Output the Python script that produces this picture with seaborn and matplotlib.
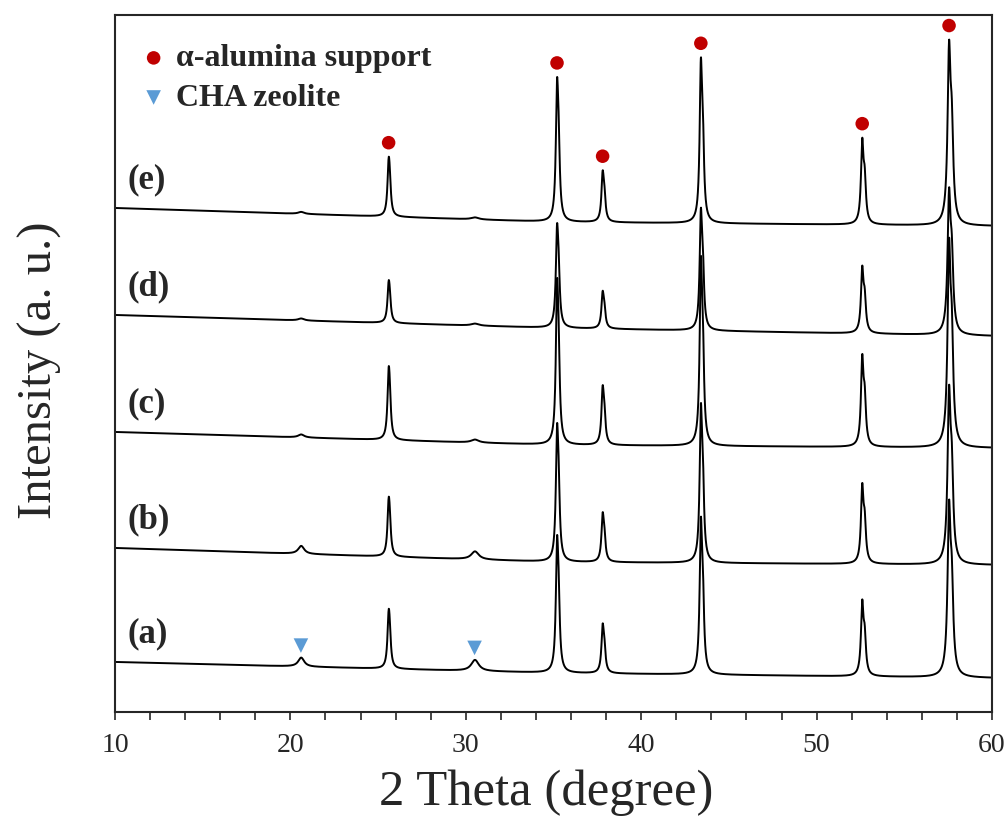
import numpy as np
import pandas as pd
import matplotlib
matplotlib.use("Agg")
import matplotlib.pyplot as plt
import seaborn as sns

# XRD patterns (a)-(e), intensities in arbitrary units (stacked)
samples = ['(a)', '(b)', '(c)', '(d)', '(e)']

# background level of each pattern at 10, 35 and 60 degrees
bg_knots = [10, 35, 60]
bg_a = [50, 39, 34]
bg_b = [164, 150, 147]
bg_c = [280, 267, 264]
bg_d = [397, 384, 376]
bg_e = [504, 490, 486]

# peak positions (2 theta) and widths (FWHM, degree)
peak_pos = [20.6, 25.6, 30.5, 35.2, 37.8, 43.4, 52.6, 57.55]
peak_fwhm = [0.4, 0.16, 0.5, 0.16, 0.16, 0.16, 0.17, 0.2]

# peak heights above background for each pattern
h_a = [9, 60, 11, 138, 50, 158, 77, 178]
h_b = [8, 60, 8, 139, 50, 160, 81, 180]
h_c = [3, 74, 3, 167, 60, 190, 93, 210]
h_d = [2, 43, 2, 105, 38, 123, 68, 148]
h_e = [2, 60, 2, 145, 52, 166, 87, 186]

# phase markers
alumina_pos = [25.6, 35.2, 37.8, 43.4, 52.6, 57.55]
cha_pos = [20.6, 30.5]

backgrounds = [bg_a, bg_b, bg_c, bg_d, bg_e]
heights = [h_a, h_b, h_c, h_d, h_e]

theta = np.linspace(10, 60, 5001)


def profile(x, x0, w):
    # Lorentzian with a Cu K-alpha2 companion, normalised to unit height
    shift = np.degrees(2 * np.tan(np.radians(x0 / 2)) * 0.00248)
    p = 1 / (1 + (2 * (x - x0) / w) ** 2) + 0.5 / (1 + (2 * (x - x0 - shift) / w) ** 2)
    return p / p.max()


frames = []
for name, bg, hs in zip(samples, backgrounds, heights):
    y = np.interp(theta, bg_knots, bg)
    for x0, w, h in zip(peak_pos, peak_fwhm, hs):
        y = y + h * profile(theta, x0, w)
    frames.append(pd.DataFrame({'theta': theta, 'intensity': y, 'sample': name}))
df = pd.concat(frames, ignore_index=True)

sns.set_style('ticks')
plt.rcParams['font.family'] = ['Liberation Serif', 'DejaVu Serif']

fig = plt.figure(figsize=(10.06, 8.19), dpi=100)
ax = fig.add_axes([0.1143, 0.1307, 0.8718, 0.851])

sns.lineplot(data=df, x='theta', y='intensity', hue='sample',
             palette=['black'] * 5, linewidth=1.4, legend=False, ax=ax,
             estimator=None, sort=False)

# markers placed just above the peak tops
top_e = df[df['sample'] == '(e)']
al_y = [top_e.loc[(top_e.theta - p).abs() < 0.3, 'intensity'].max() + 14 for p in alumina_pos]
top_a = df[df['sample'] == '(a)']
cha_y = [top_a.loc[(top_a.theta - p).abs() < 0.3, 'intensity'].max() + 12 for p in cha_pos]

sns.scatterplot(x=alumina_pos, y=al_y, marker='o', s=95, color='#C00000',
                edgecolor='none', ax=ax, label='α-alumina support', zorder=5)
sns.scatterplot(x=cha_pos, y=cha_y, marker='v', s=110, color='#5B9BD5',
                edgecolor='none', ax=ax, label='CHA zeolite', zorder=5)

for name, bg in zip(samples, backgrounds):
    ax.text(10.7, bg[0] + 28, name, fontsize=25, fontweight='bold',
            va='center', ha='left')

leg = ax.legend(loc='upper left', bbox_to_anchor=(0.004, 0.986), frameon=False,
                prop={'size': 23, 'weight': 'bold'}, handletextpad=0.2,
                labelspacing=0.32, handlelength=1.0, borderaxespad=0.2)

ax.set_xlim(10, 60)
ax.set_ylim(0, 697)
ax.set_xticks([10, 20, 30, 40, 50, 60])
ax.set_xticks(np.arange(10, 61, 2), minor=True)
ax.set_yticks([])
ax.tick_params(axis='x', which='both', direction='out', length=6, width=1.2,
               labelsize=20, pad=9)
for s in ax.spines.values():
    s.set_linewidth(1.5)
    s.set_visible(True)

ax.set_xlabel('2 Theta (degree)', fontsize=36.5)
ax.xaxis.set_label_coords(0.492, -0.082)
ax.set_ylabel('Intensity (a. u.)', fontsize=35)
ax.yaxis.set_label_coords(-0.060, 0.49)

fig.savefig('out.png', dpi=100)
